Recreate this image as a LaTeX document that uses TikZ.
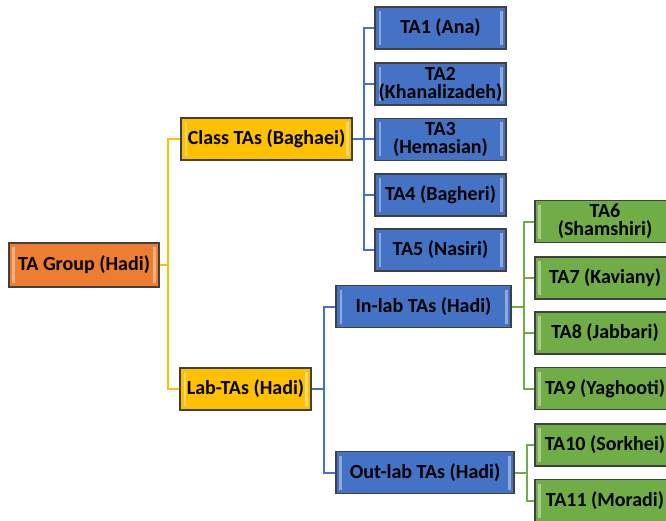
\documentclass[tikz,border=0pt]{standalone}
\usepackage{fontspec}
\setmainfont{Carlito}

\definecolor{grporange}{HTML}{ED7D31}
\definecolor{clsgold}{HTML}{FFC000}
\definecolor{tablue}{HTML}{4472C4}
\definecolor{tagreen}{HTML}{70AD47}
\definecolor{boxedge}{HTML}{404040}

\tikzset{every picture/.style={line width=0.75pt}}
\tikzset{
  tabox/.style={draw=boxedge, line width=1.2pt, minimum height=31.5pt, inner sep=1pt,
    align=center, font=\bfseries\fontsize{15}{13.5}\selectfont,
    path picture={
      \draw [white, opacity=0.4, line width=2pt]
        ([xshift=3.5pt,yshift=-3pt]path picture bounding box.north west) --
        ([xshift=3.5pt,yshift=3pt]path picture bounding box.south west);
      \draw [white, opacity=0.4, line width=2pt]
        ([xshift=-3.5pt,yshift=-3pt]path picture bounding box.north east) --
        ([xshift=-3.5pt,yshift=3pt]path picture bounding box.south east);
    }},
  grpbox/.style={tabox, fill=grporange},
  goldbox/.style={tabox, fill=clsgold},
  bluebox/.style={tabox, fill=tablue},
  greenbox/.style={tabox, fill=tagreen, minimum width=105pt},
  yconn/.style={draw=clsgold, line width=1.5pt},
  bconn/.style={draw=tablue, line width=1.5pt},
  gconn/.style={draw=tagreen, line width=1.5pt}
}

\begin{document}
\begin{tikzpicture}[x=0.75pt,y=0.75pt,yscale=-1,xscale=1]
\useasboundingbox (0,0) rectangle (666,520);
\clip (0,0) rectangle (666,520);

% Root
\node [grpbox, minimum width=112.5pt, minimum height=33pt] (grp) at (84,265) {TA Group (Hadi)};

% Second level
\node [goldbox, minimum width=128pt] (cls) at (266.5,139) {Class TAs (Baghaei)};
\node [goldbox, minimum width=98pt] (lab) at (245.5,389) {Lab-TAs (Hadi)};

% Class TAs
\node [bluebox, minimum width=98pt] (ta1) at (440.5,28) {TA1 (Ana)};
\node [bluebox, minimum width=98pt] (ta2) at (440.5,84) {TA2\\(Khanalizadeh)};
\node [bluebox, minimum width=98pt] (ta3) at (440.5,139.5) {TA3\\(Hemasian)};
\node [bluebox, minimum width=98pt] (ta4) at (440.5,195) {TA4 (Bagheri)};
\node [bluebox, minimum width=98pt] (ta5) at (440.5,250) {TA5 (Nasiri)};

% Lab TAs
\node [bluebox, minimum width=131pt] (inlab) at (423.5,306.5) {In-lab TAs (Hadi)};
\node [bluebox, minimum width=133.5pt] (outlab) at (425,472.5) {Out-lab TAs (Hadi)};

\node [greenbox] (ta6) at (605,221.5) {TA6\\(Shamshiri)};
\node [greenbox] (ta7) at (605,278) {TA7 (Kaviany)};
\node [greenbox] (ta8) at (605,333) {TA8 (Jabbari)};
\node [greenbox] (ta9) at (605,388.5) {TA9 (Yaghooti)};
\node [greenbox] (ta10) at (605,445) {TA10 (Sorkhei)};
\node [greenbox] (ta11) at (605,500.5) {TA11 (Moradi)};

% Connectors
\draw [yconn] (grp.east) -- ++(8,0) |- (cls.west);
\draw [yconn] (grp.east) -- ++(8,0) |- (lab.west);
\foreach \t in {ta1,ta2,ta3,ta4,ta5}
  \draw [bconn] (cls.east) -- ++(11,0) |- (\t.west);
\draw [bconn] (lab.east) -- ++(12,0) |- (inlab.west);
\draw [bconn] (lab.east) -- ++(12,0) |- (outlab.west);
\foreach \t in {ta6,ta7,ta8,ta9}
  \draw [gconn] (inlab.east) -- ++(12,0) |- (\t.west);
\draw [gconn] (outlab.east) -- ++(12,0) |- (ta10.west);
\draw [gconn] (outlab.east) -- ++(12,0) |- (ta11.west);

\end{tikzpicture}
\end{document}
